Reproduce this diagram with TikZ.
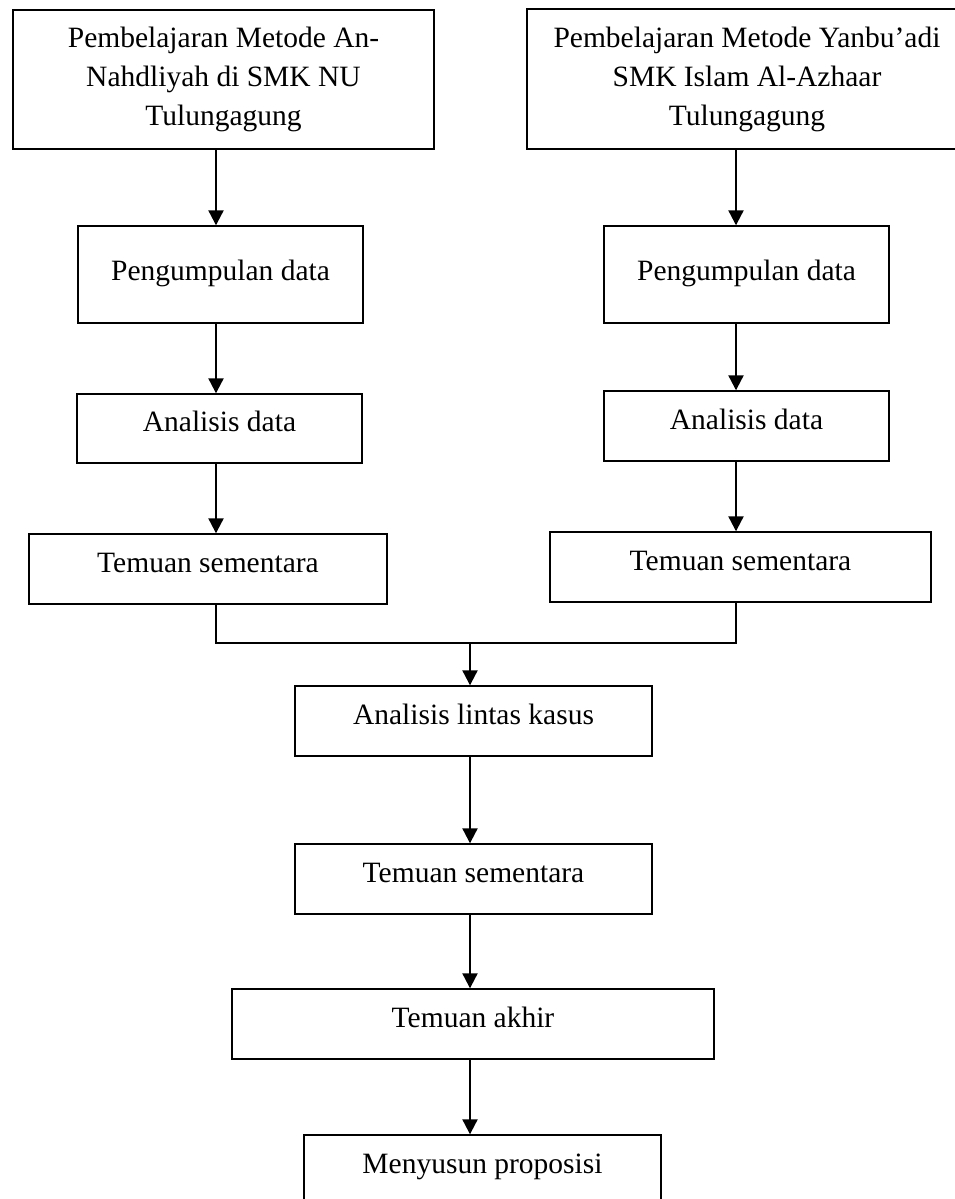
\documentclass[tikz,border=0pt]{standalone}
\usepackage{fontspec}
\setmainfont{Liberation Serif}
\usetikzlibrary{arrows.meta}
\tikzset{
  box/.style={draw, line width=1.4pt, inner sep=0pt, align=center,
    font=\fontsize{29.5}{39}\selectfont, text height=20pt, text depth=14pt},
  tallbox/.style={box, text height=20pt, text depth=9pt},
  multibox/.style={draw, line width=1.4pt, inner sep=0pt, align=center,
    font=\fontsize{29.5}{39}\selectfont},
  ln/.style={line width=2.2pt},
  arr/.style={line width=2.2pt, -{Triangle[length=15pt,width=15pt]}}
}
\begin{document}
\begin{tikzpicture}[x=1pt,y=-1pt]
\fill[white] (0,0) rectangle (954,1199);
\useasboundingbox (0,0) rectangle (954,1199);
% column coordinates
\coordinate (cl) at (216,0);
\coordinate (cr) at (736,0);
\coordinate (cc) at (470,0);
\coordinate (jn) at (470,643);
% nodes
\node[multibox, minimum width=421pt, minimum height=139pt] (b1) at (223.5,79.5)
  {Pembelajaran Metode An-\\Nahdliyah di SMK NU\\Tulungagung};
\node[multibox, minimum width=440pt, minimum height=140pt] (b2) at (747,79)
  {Pembelajaran Metode Yanbu’adi\\SMK Islam Al-Azhaar\\Tulungagung};
\node[tallbox, minimum width=285pt, minimum height=97pt] (b3) at (220.5,274.5) {Pengumpulan data};
\node[tallbox, minimum width=285pt, minimum height=97pt] (b4) at (746.5,274.5) {Pengumpulan data};
\node[box, minimum width=285pt, minimum height=69pt] (b5) at (219.5,428.5) {Analisis data};
\node[box, minimum width=285pt, minimum height=70pt] (b6) at (746.5,426) {Analisis data};
\node[box, minimum width=358pt, minimum height=70pt] (b7) at (208,569) {Temuan sementara};
\node[box, minimum width=381pt, minimum height=70pt] (b8) at (740.5,567) {Temuan sementara};
\node[box, minimum width=357pt, minimum height=70pt] (b9) at (473.5,721) {Analisis lintas kasus};
\node[box, minimum width=357pt, minimum height=70pt] (b10) at (473.5,879) {Temuan sementara};
\node[box, minimum width=482pt, minimum height=70pt] (b11) at (473,1024) {Temuan akhir};
\node[box, minimum width=357pt, minimum height=70pt] (b12) at (482.5,1170) {Menyusun proposisi};
% left column
\draw[arr] (b1.south -| cl) -- (b3.north -| cl);
\draw[arr] (b3.south -| cl) -- (b5.north -| cl);
\draw[arr] (b5.south -| cl) -- (b7.north -| cl);
% right column
\draw[arr] (b2.south -| cr) -- (b4.north -| cr);
\draw[arr] (b4.south -| cr) -- (b6.north -| cr);
\draw[arr] (b6.south -| cr) -- (b8.north -| cr);
% merge
\draw[ln] (b7.south -| cl) -- (cl |- jn) -- (cr |- jn) -- (b8.south -| cr);
\draw[arr] (jn) -- (b9.north -| cc);
% center column
\draw[arr] (b9.south -| cc) -- (b10.north -| cc);
\draw[arr] (b10.south -| cc) -- (b11.north -| cc);
\draw[arr] (b11.south -| cc) -- (b12.north -| cc);
\end{tikzpicture}
\end{document}
